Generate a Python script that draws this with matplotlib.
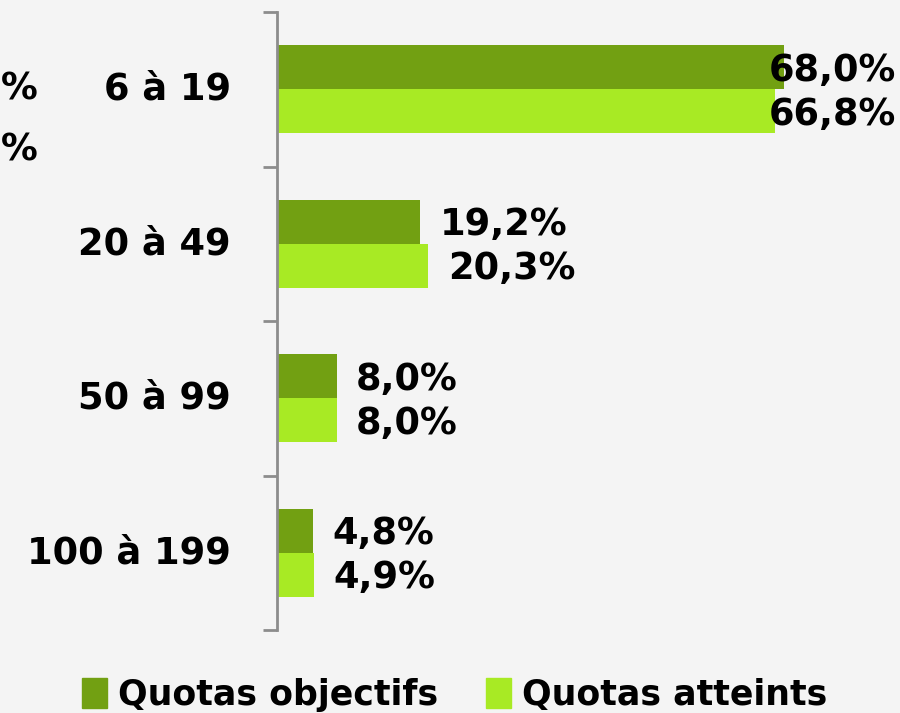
import matplotlib
matplotlib.use('Agg')
import matplotlib.pyplot as plt
from matplotlib.patches import Patch

# données
categories = ['6 à 19', '20 à 49', '50 à 99', '100 à 199']
quotas_objectifs = [68.0, 19.2, 8.0, 4.8]
quotas_atteints = [66.8, 20.3, 8.0, 4.9]
labels_objectifs = ['68,0%', '19,2%', '8,0%', '4,8%']
labels_atteints = ['66,8%', '20,3%', '8,0%', '4,9%']

dark = '#72a012'
light = '#a8ea24'
bg = '#f4f4f4'
font = 'DejaVu Sans'
fs = 26.5

fig = plt.figure(figsize=(9, 7.13), dpi=100, facecolor=bg)
ax = fig.add_axes([277 / 900, 83 / 713, 1 - 277 / 900, 618 / 713])
ax.set_facecolor(bg)

y = list(range(len(categories)))
h = 0.285
ax.barh([v - h / 2 for v in y], quotas_objectifs, height=h, color=dark)
ax.barh([v + h / 2 for v in y], quotas_atteints, height=h, color=light)

ax.set_xlim(0, 83.5)
ax.set_ylim(len(categories) - 0.5, -0.5)

# étiquettes de valeurs
for i in y:
    for val, lab, off in [(quotas_objectifs[i], labels_objectifs[i], -h / 2),
                          (quotas_atteints[i], labels_atteints[i], h / 2)]:
        if val > 50:
            ax.text(83.0, i + off + 0.02, lab, ha='right', va='center', fontsize=fs,
                    fontweight='bold', family=font)
        else:
            ax.annotate(lab, (val, i + off + 0.02), xytext=(14, 0), textcoords='offset points',
                        ha='left', va='center', fontsize=fs, fontweight='bold', family=font)

# catégories
for i, c in enumerate(categories):
    ax.text(-6.2, i, c, ha='right', va='center', fontsize=fs, fontweight='bold', family=font)

ax.set_yticks([v - 0.5 for v in range(len(categories) + 1)])
ax.set_yticklabels([])
ax.tick_params(axis='y', length=10, width=2, color='#8c8c8c')
ax.set_xticks([])
for s in ['top', 'right', 'bottom']:
    ax.spines[s].set_visible(False)
ax.spines['left'].set_color('#8c8c8c')
ax.spines['left'].set_linewidth(2)

# morceaux d'un autre graphique à gauche
fig.text(1 / 900, 1 - 89 / 713, '%', ha='left', va='center', fontsize=fs, fontweight='bold', family=font)
fig.text(1 / 900, 1 - 150 / 713, '%', ha='left', va='center', fontsize=fs, fontweight='bold', family=font)

handles = [Patch(color=dark, label='Quotas objectifs'), Patch(color=light, label='Quotas atteints')]
fig.legend(handles=handles, loc='center', bbox_to_anchor=(0.505, 1 - 695 / 713), ncol=2,
           frameon=False, prop={'family': font, 'weight': 'bold', 'size': 25},
           handlelength=0.72, handleheight=0.95, handletextpad=0.3, columnspacing=1.4)

fig.savefig('out.png', dpi=100, facecolor=bg)
